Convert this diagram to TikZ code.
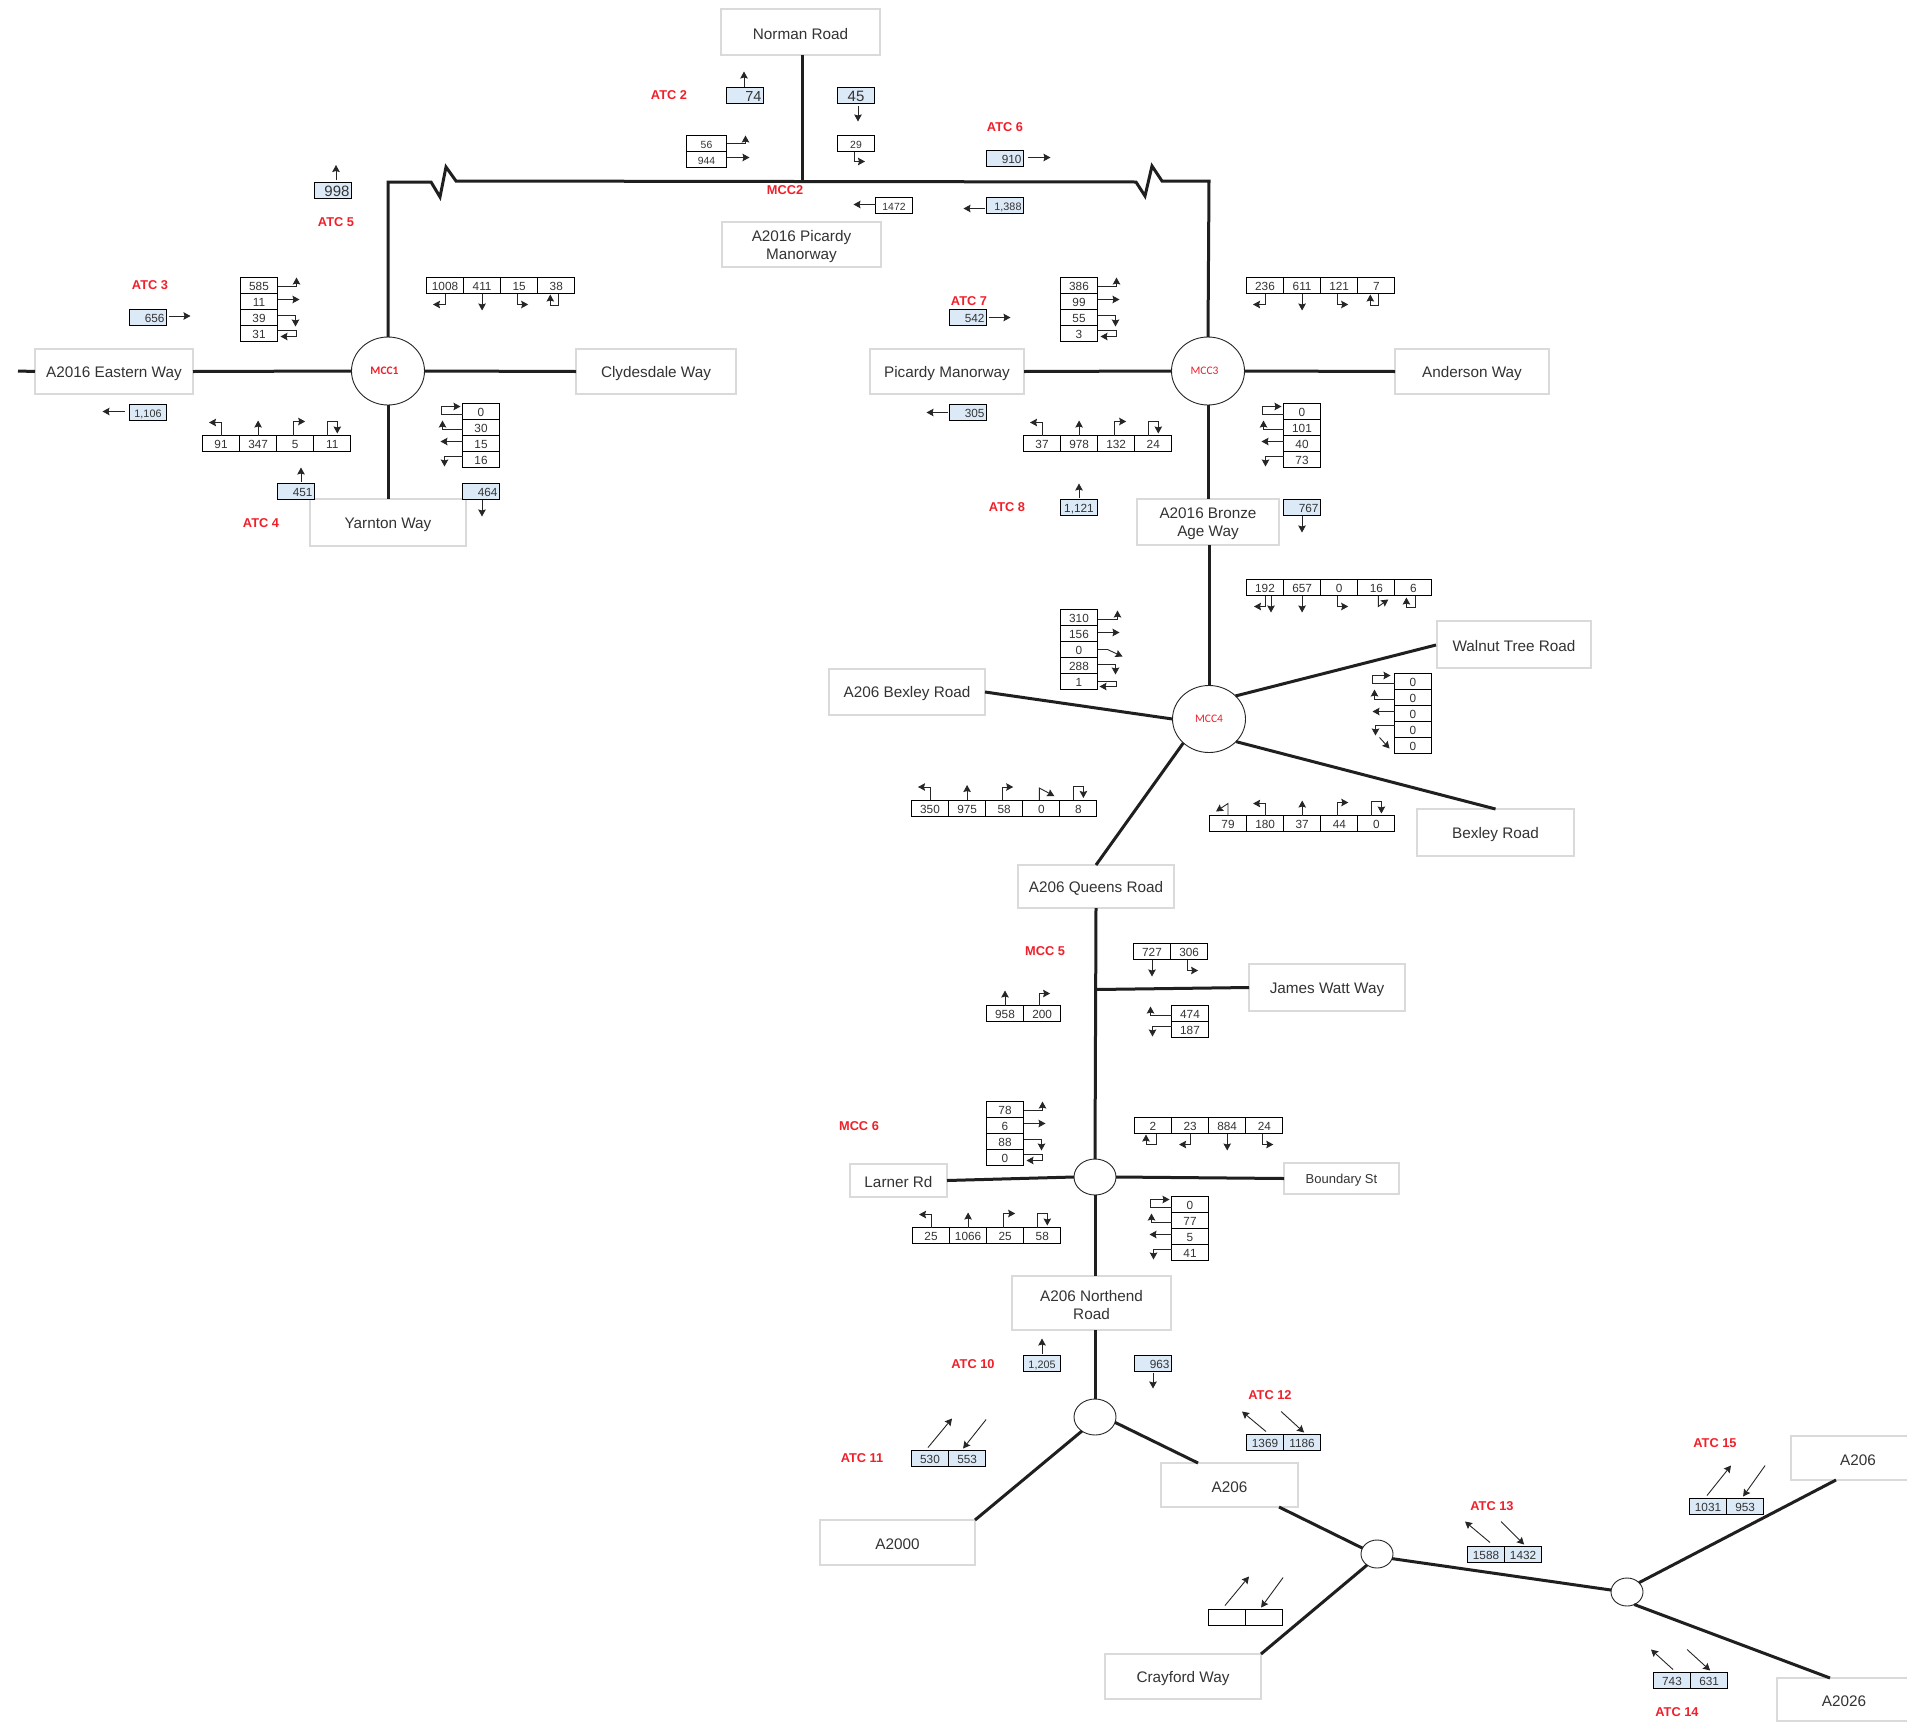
\documentclass[tikz,border=0pt]{standalone}
\usepackage{fontspec}
\setmainfont{Liberation Sans}
\newfontfamily\carl{Carlito}
\usetikzlibrary{arrows.meta,shapes.geometric}
\definecolor{ink}{HTML}{333333}
\definecolor{redlab}{HTML}{F0202A}
\definecolor{bluecell}{HTML}{DCE9F7}
\definecolor{boxline}{HTML}{DADADA}
\tikzset{
  cell/.style={draw=black,line width=0.9pt,fill=white,minimum width=37pt,minimum height=16pt,inner sep=0pt,outer sep=0pt,text=ink,text height=10pt,text depth=0pt,font=\fontsize{11.8}{12}\selectfont},
  bluec/.style={cell,fill=bluecell},
  rightnum/.style={align=right,text width=33pt},
  roadbox/.style={draw=boxline,line width=1.3pt,fill=white,inner sep=0pt,outer sep=0pt,align=center,text=ink,font=\fontsize{15.3}{18}\selectfont},
  junction/.style={ellipse,draw=black!85,line width=0.9pt,fill=white,inner sep=0pt,outer sep=0pt,text=redlab},
  roadline/.style={line width=3pt,draw=black!88,line join=miter},
  arr/.style={line width=0.9pt,draw=black!85,-{Stealth[inset=1pt,length=7pt,width=7.5pt]}},
  redlabel/.style={text=redlab,inner sep=0pt,font=\bfseries\fontsize{12.8}{14}\selectfont},
}
\newcommand\hcells[4]{\foreach \v [count=\i from 0] in {#4}{\node[cell] (#1\i) at ({#2+18+\i*37.1},{#3+8.5}) {\v};}}
\newcommand\vcells[4]{\foreach \v [count=\i from 0] in {#4}{\node[cell] (#1\i) at ({#2+18},{#3+8.5+\i*16}) {\v};}}
\newcommand\road[6]{\node[roadbox,minimum width={#4-#2},minimum height={#5-#3}] (#1) at ({(#2+#4)/2},{(#3+#5)/2}) {\rule{0pt}{14.5pt}#6};}
\newcommand\arE[1]{%
  \draw[arr] (#10.east) ++(0,1) -- ++(19,0) -- ++(0,-9);
  \draw[arr] (#11.east) ++(0,-2) -- ++(22,0);
  \draw[arr] (#12.east) ++(0,-2) -- ++(18,0) -- ++(0,11);
  \draw[arr] (#13.east) ++(0,-3) -- ++(19,0) -- ++(0,6) -- ++(-16,0);}
\newcommand\arN[1]{%
  \draw[arr] (#10.north) -- ++(0,-13) -- ++(-12,0);
  \draw[arr] (#11.north) -- ++(0,-15);
  \draw[arr] (#12.north) ++(-2,0) -- ++(0,-14) -- ++(12,0);
  \draw[arr] (#13.north) ++(-5,0) -- ++(0,-14) -- ++(10,0) -- ++(0,12);}
\newcommand\arS[1]{%
  \draw[arr] (#10.south) -- ++(0,11) -- ++(-12,0);
  \draw[arr] (#11.south) -- ++(0,17);
  \draw[arr] (#12.south) ++(-2,0) -- ++(0,11) -- ++(11,0);
  \draw[arr] (#13.south) ++(2,0) -- ++(0,12) -- ++(-8,0) -- ++(0,-11);}
\newcommand\arW[1]{%
  \draw[arr] (#10.west) ++(0,3) -- ++(-21,0) -- ++(0,-8) -- ++(19,0);
  \draw[arr] (#11.west) ++(0,2) -- ++(-20,0) -- ++(0,-9);
  \draw[arr] (#12.west) ++(0,-2) -- ++(-22,0);
  \draw[arr] (#13.west) ++(0,-3) -- ++(-18,0) -- ++(0,10);}
\begin{document}
\begin{tikzpicture}[x=1pt,y=-1pt]
\clip (0,0) rectangle (1907,1724);
\fill[white] (0,0) rectangle (1907,1724);

% ---- road boxes
\road{norman}{721}{9}{880}{55}{Norman Road}
\road{picardyman}{722}{222}{881}{267}{A2016 Picardy\\Manorway}
\road{eastern}{35}{349}{193}{394}{A2016 Eastern Way}
\road{clyde}{576}{349}{736}{394}{Clydesdale Way}
\road{yarnton}{310}{499}{466}{546}{Yarnton Way}
\road{picardy}{870}{349}{1024}{394}{Picardy Manorway}
\road{anderson}{1395}{349}{1549}{394}{Anderson Way}
\road{bronze}{1137}{499}{1279}{545}{A2016 Bronze\\Age Way}
\road{walnut}{1437}{621}{1591}{668}{Walnut Tree Road}
\road{bexleyw}{829}{669}{985}{715}{A206 Bexley Road}
\road{bexley}{1417}{809}{1574}{856}{Bexley Road}
\road{queens}{1018}{865}{1174}{908}{A206 Queens Road}
\road{james}{1249}{964}{1405}{1011}{James Watt Way}
\road{larner}{850}{1164}{947}{1197}{Larner Rd}
\node[roadbox,minimum width=115pt,minimum height=31pt,font=\fontsize{13}{15}\selectfont] (boundary) at (1341.5,1178.5) {\rule{0pt}{12pt}Boundary St};
\road{northend}{1012}{1276}{1171}{1330}{A206 Northend\\Road}
\road{atwosix}{1161}{1463}{1298}{1507}{A206}
\road{atwok}{820}{1520}{975}{1565}{A2000}
\road{crayford}{1105}{1654}{1261}{1699}{Crayford Way}
\road{atwosixr}{1791}{1436}{1925}{1480}{A206}
\road{atwokt}{1777}{1678}{1911}{1721}{A2026}

% ---- junctions
\node[junction,minimum width=73pt,minimum height=68pt,font=\carl\bfseries\fontsize{11.5}{12}\selectfont] (mcc1) at (388,371) {\kern-7pt MCC1};
\node[junction,minimum width=73pt,minimum height=68pt,font=\carl\fontsize{11.5}{12}\selectfont] (mcc3) at (1208,371) {\kern-7pt MCC3};
\node[junction,minimum width=73pt,minimum height=67pt,font=\carl\fontsize{11.5}{12}\selectfont] (mcc4) at (1209,719) {MCC4};
\node[junction,minimum width=42pt,minimum height=36pt] (mcc6) at (1095,1177) {};
\node[junction,minimum width=42pt,minimum height=36pt] (jb) at (1095,1417) {};
\node[junction,minimum width=32pt,minimum height=28pt] (jc) at (1377,1554) {};
\node[junction,minimum width=32pt,minimum height=28pt] (jd) at (1627,1592) {};

% ---- named free ends
\coordinate (stub) at (18,371);
\coordinate (tl) at (388,182);
\coordinate (tr) at (1209,181);
\coordinate (nj) at (802,182);
\coordinate (jw) at (1096,989.5);
\coordinate (aIn) at (1198,1463);
\coordinate (aOut) at (1279,1507);
\coordinate (crayIn) at (1261,1654);
\coordinate (rEnd) at (1836,1480);
\coordinate (sEnd) at (1830,1678);
\coordinate (walEnd) at (1436,645);
\coordinate (bexEnd) at (985,692);

% ---- road lines
\draw[roadline] (stub) -- (eastern.west);
\draw[roadline] (eastern.east) -- (mcc1.west);
\draw[roadline] (mcc1.east) -- (clyde.west);
\draw[roadline] (mcc1.south) -- (yarnton.north);
\draw[roadline,line cap=butt] (mcc1.north) -- (tl) -- ++(43,0) -- ++(9,15) -- ++(6,-30) -- ++(10,14)
   -- ++(680,1) -- ++(9,14) -- ++(7,-30) -- ++(10,15) -- (tr) -- (mcc3.north);
\draw[roadline] (norman.south -| nj) -- (nj);
\draw[roadline] (picardy.east) -- (mcc3.west);
\draw[roadline] (mcc3.east) -- (anderson.west);
\draw[roadline] (mcc3.south) -- (mcc3.south |- bronze.north);
\draw[roadline] (mcc4.north |- bronze.south) -- (mcc4.north);
\draw[roadline] (mcc4.41) -- (walEnd);
\draw[roadline] (mcc4.-40) -- (bexley.north);
\draw[roadline] (bexEnd) -- (mcc4.west);
\draw[roadline] (mcc4.223) -- (queens.north);
\draw[roadline] (queens.south) -- (mcc6.north);
\draw[roadline] (jw) -- (james.west);
\draw[roadline] (larner.east) -- (mcc6.west);
\draw[roadline] (mcc6.east) -- (boundary.west);
\draw[roadline] (mcc6.south) -- (mcc6.south |- northend.north);
\draw[roadline] (jb.north |- northend.south) -- (jb.north);
\draw[roadline] (jb.227) -- (atwok.north east);
\draw[roadline] (jb.-15) -- (aIn);
\draw[roadline] (aOut) -- (jc.158);
\draw[roadline] (jc.228) -- (crayIn);
\draw[roadline] (jc.-17) -- (jd.173);
\draw[roadline] (jd.38) -- (rEnd);
\draw[roadline] (jd.-60) -- (sEnd);

% ---- MCC1 tables
\vcells{ae}{241}{277}{585,11,39,31} \arE{ae}
\hcells{as}{427}{277}{1008,411,15,38} \arS{as}
\hcells{an}{203}{435}{91,347,5,11} \arN{an}
\vcells{aw}{463}{403}{0,30,15,16} \arW{aw}

% ---- MCC3 tables
\vcells{ce}{1061}{277}{386,99,55,3} \arE{ce}
\hcells{cs}{1247}{277}{236,611,121,7} \arS{cs}
\hcells{cn}{1024}{435}{37,978,132,24} \arN{cn}
\vcells{cw}{1284}{403}{0,101,40,73} \arW{cw}

% ---- MCC4 tables
\hcells{ds}{1247}{579}{192,657,0,16,6}
\draw[arr] (ds0.south) -- ++(0,11) -- ++(-11,0);
\draw[arr] (ds0.south) ++(6,0) -- ++(0,17);
\draw[arr] (ds1.south) -- ++(0,17);
\draw[arr] (ds2.south) ++(-2,0) -- ++(0,11) -- ++(11,0);
\draw[arr] (ds3.south) ++(2,0) -- ++(0,11) -- ++(10,-7);
\draw[arr] (ds4.south) ++(2,0) -- ++(0,12) -- ++(-9,0) -- ++(0,-10);
\vcells{de}{1061}{609}{310,156,0,288,1}
\draw[arr] (de0.east) ++(0,2) -- ++(20,0) -- ++(0,-9);
\draw[arr] (de1.east) ++(0,-1) -- ++(22,0);
\draw[arr] (de2.east) ++(0,0) -- ++(10,0) -- ++(15,7);
\draw[arr] (de3.east) ++(0,-1) -- ++(18,0) -- ++(0,10);
\draw[arr] (de4.east) ++(0,0) -- ++(19,0) -- ++(0,5) -- ++(-17,0);
\vcells{dw}{1395}{673}{0,0,0,0,0}
\draw[arr] (dw0.west) ++(0,2) -- ++(-22,0) -- ++(0,-8) -- ++(18,0);
\draw[arr] (dw1.west) ++(0,2) -- ++(-20,0) -- ++(0,-10);
\draw[arr] (dw2.west) ++(0,-2) -- ++(-22,0);
\draw[arr] (dw3.west) ++(0,-4) -- ++(-19,0) -- ++(0,10);
\draw[arr] (dw4.west) ++(-15,-8) -- ++(10,11);
\hcells{dn}{1210}{815}{79,180,37,44,0}
\draw[arr] (dn0.north) ++(0,0) -- ++(0,-12) -- ++(-12,8);
\draw[arr] (dn1.north) -- ++(0,-12) -- ++(-12,0);
\draw[arr] (dn2.north) -- ++(0,-15);
\draw[arr] (dn3.north) ++(-2,0) -- ++(0,-13) -- ++(11,0);
\draw[arr] (dn4.north) ++(-5,0) -- ++(0,-14) -- ++(10,0) -- ++(0,12);
\hcells{dm}{912}{799.5}{350,975,58,0,8}
\draw[arr] (dm0.north) -- ++(0,-13) -- ++(-12,0);
\draw[arr] (dm1.north) -- ++(0,-15);
\draw[arr] (dm2.north) ++(-2,0) -- ++(0,-13) -- ++(11,0);
\draw[arr] (dm3.north) ++(-2,0) -- ++(0,-12) -- ++(15,8);
\draw[arr] (dm4.north) ++(-5,0) -- ++(0,-14) -- ++(10,0) -- ++(0,12);

% ---- MCC5 tables
\hcells{ea}{1134}{943}{727,306}
\draw[arr] (ea0.south) -- ++(0,17);
\draw[arr] (ea1.south) ++(-2,0) -- ++(0,11) -- ++(11,0);
\hcells{eb}{987}{1005}{958,200}
\draw[arr] (eb0.north) -- ++(0,-15);
\draw[arr] (eb1.north) ++(-3,0) -- ++(0,-12) -- ++(11,0);
\vcells{ec}{1172}{1005}{474,187}
\draw[arr] (ec0.west) ++(0,2) -- ++(-21,0) -- ++(0,-9);
\draw[arr] (ec1.west) ++(0,-3) -- ++(-19,0) -- ++(0,10);

% ---- MCC6 tables
\vcells{fe}{987}{1101}{78,6,88,0} \arE{fe}
\hcells{fs}{1135}{1117}{2,23,884,24}
\draw[arr] (fs0.south) ++(3,0) -- ++(0,11) -- ++(-10,0) -- ++(0,-10);
\draw[arr] (fs1.south) -- ++(0,11) -- ++(-11,0);
\draw[arr] (fs2.south) -- ++(0,17);
\draw[arr] (fs3.south) ++(-2,0) -- ++(0,11) -- ++(11,0);
\hcells{fn}{913}{1227}{25,1066,25,58} \arN{fn}
\vcells{fw}{1172}{1196}{0,77,5,41} \arW{fw}

% ---- single ATC cells with arrows
\node[bluec,rightnum,text height=12pt,font=\fontsize{14.5}{15}\selectfont] (v74) at (745,95.5) {74};
\draw[arr] (v74.north) ++(-1,-1) -- ++(0,-15);
\node[bluec,text height=12pt,font=\fontsize{15}{15}\selectfont] (v45) at (856,95.5) {45};
\draw[arr] (v45.south) ++(2,2) -- ++(0,16);
\node[cell,minimum width=40pt,font=\fontsize{10.4}{11}\selectfont] (v56) at (706.5,143.5) {56};
\node[cell,minimum width=40pt,font=\fontsize{10.4}{11}\selectfont] (v944) at (706.5,159.5) {944};
\draw[arr] (v56.east) -- ++(19,0) -- ++(0,-8);
\draw[arr] (v944.east) ++(0,-2) -- ++(23,0);
\node[cell,font=\fontsize{10.4}{11}\selectfont] (v29) at (856,143.5) {29};
\draw[arr] (v29.south) ++(-2,0) -- ++(0,10) -- ++(11,0);
\node[bluec,rightnum] (v910) at (1005,158.5) {910};
\draw[arr] (v910.east) ++(4,-1) -- ++(23,0);
\node[cell,font=\fontsize{10.4}{11}\selectfont] (v1472) at (894,205.5) {1472};
\draw[arr] (v1472.west) ++(0,-1) -- ++(-22,0);
\node[bluec,rightnum,font=\fontsize{10.8}{11}\selectfont] (v1388) at (1005,205.5) {1,388};
\draw[arr] (v1388.west) ++(-2,3) -- ++(-21,0);
\node[bluec,rightnum,text height=12pt,font=\fontsize{15}{15}\selectfont] (v998) at (333,190) {998};
\draw[arr] (v998.north) ++(3,-2) -- ++(0,-15);
\node[bluec,rightnum] (v656) at (148,317) {656};
\draw[arr] (v656.east) ++(2,-1) -- ++(22,0);
\node[bluec,font=\fontsize{10.8}{11}\selectfont] (v1106) at (148,412.5) {1,106};
\draw[arr] (v1106.west) ++(-5,-1) -- ++(-22,0);
\node[bluec,rightnum] (v451) at (296,491.5) {451};
\draw[arr] (v451.north) ++(5,-2) -- ++(0,-14);
\node[bluec,rightnum] (v464) at (481,491.5) {464};
\draw[arr] (v464.south) ++(1,0) -- ++(0,17);
\node[bluec,rightnum] (v542) at (968,317.5) {542};
\draw[arr] (v542.east) ++(2,0) -- ++(22,0);
\node[bluec,rightnum] (v305) at (968,412.5) {305};
\draw[arr] (v305.west) ++(-2,0) -- ++(-21,0);
\node[bluec] (v1121) at (1079,507.5) {1,121};
\draw[arr] (v1121.north) ++(0,-2) -- ++(0,-14);
\node[bluec,rightnum] (v767) at (1302,507.5) {767};
\draw[arr] (v767.south) ++(0,0) -- ++(0,17);
\node[bluec,font=\fontsize{10.8}{11}\selectfont] (v1205) at (1042,1363.5) {1,205};
\draw[arr] (v1205.north) ++(0,-2) -- ++(0,-15);
\node[bluec,rightnum] (v963) at (1153,1363.5) {963};
\draw[arr] (v963.south) ++(0,1) -- ++(0,16);

% ---- paired blue cells with diagonal arrows
\foreach \nm/\x/\y/\p/\q in {g/912/1450/530/553,h/1247/1434/1369/1186,k/1468/1546/1588/1432,m/1690/1498/1031/953,o/1654/1672/743/631}{
  \node[bluec] (\nm0) at ({\x+18},{\y+8.5}) {\p};
  \node[bluec] (\nm1) at ({\x+55.1},{\y+8.5}) {\q};
}
\draw[arr] (g0.north) ++(-2,-3) -- ++(24,-29);
\draw[arr] (g1.north) ++(19,-31) -- ++(-23,29);
\draw[arr] (h0.north) ++(1,-3) -- ++(-24,-20);
\draw[arr] (h1.north) ++(-21,-23) -- ++(23,21);
\draw[arr] (k0.north) ++(4,-4) -- ++(-25,-21);
\draw[arr] (k1.north) ++(-22,-25) -- ++(23,23);
\draw[arr] (m0.north) ++(-1,-3) -- ++(24,-30);
\draw[arr] (m1.north) ++(20,-33) -- ++(-22,31);
\draw[arr] (o0.north) ++(1,-3) -- ++(-22,-20);
\draw[arr] (o1.north) ++(-22,-23) -- ++(23,21);

\node[cell] (b0) at (1227,1617.5) {};
\node[cell] (b1) at (1264.1,1617.5) {};
\draw[arr] (b0.north) ++(-2,-4) -- ++(24,-29);
\draw[arr] (b1.north) ++(19,-32) -- ++(-22,30);

% ---- red labels
\foreach \nm/\x/\y/\t in {la/669/95/ATC 2,lb/1005/127/ATC 6,lc/785/190/MCC2,ld/336/222/ATC 5,le/150/285/ATC 3,lf/969/301/ATC 7,lg/261/523/ATC 4,lh/1007/507/ATC 8,li/1045/951/MCC 5,lj/859/1126/MCC 6,lk/973/1364/ATC 10,ll/862/1458/ATC 11,lm/1270/1395/ATC 12,ln/1492/1506/ATC 13,lo/1715/1443/ATC 15,lp/1677/1712/ATC 14}{
  \node[redlabel] (\nm) at (\x,\y) {\t};
}
\end{tikzpicture}
\end{document}
